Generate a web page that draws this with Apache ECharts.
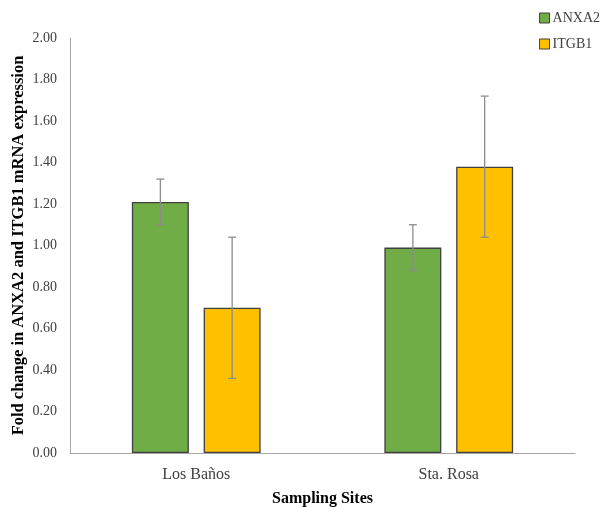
<!DOCTYPE html>
<html>
<head>
<meta charset="utf-8">
<script src="https://cdn.jsdelivr.net/npm/echarts@6/dist/echarts.min.js"></script>
<style>
    html, body { margin: 0; padding: 0; background: #fff; }
    #chart { width: 604px; height: 507px; }
</style>
</head>
<body>
<div id="chart"></div>
<script>
// ================* DATA *
let sites = ['Los Baños', 'Sta. Rosa'];
let anxa2 = [1.21, 0.99];
let anxa2Err = [0.11, 0.11];
let itgb1 = [0.70, 1.38];
let itgb1Err = [0.34, 0.34];

// bar layout (shared with error bars)
let catGap = 0.49;
let barGap = 0.26;

function errorSeries(name, values, errs, side) {
    return {
        name: name + ' err',
        type: 'custom',
        z: 5,
        data: values.map(function (v, i) {
            return [i, v - errs[i], v + errs[i]];
        }),
        renderItem: function (params, api) {
            let band = api.size([1, 0])[0];
            let barW = band * (1 - catGap) / (2 + barGap);
            let off = side * barW * (1 + barGap) / 2;
            let lo = api.coord([api.value(0), api.value(1)]);
            let hi = api.coord([api.value(0), api.value(2)]);
            let x = lo[0] + off;
            let cap = 4;
            let style = { stroke: '#8c8c8c', lineWidth: 1.3 };
            return {
                type: 'group',
                children: [
                    { type: 'line', shape: { x1: x, y1: lo[1], x2: x, y2: hi[1] }, style: style },
                    { type: 'line', shape: { x1: x - cap, y1: lo[1], x2: x + cap, y2: lo[1] }, style: style },
                    { type: 'line', shape: { x1: x - cap, y1: hi[1], x2: x + cap, y2: hi[1] }, style: style }
                ]
            };
        }
    };
}

var chart = echarts.init(document.getElementById('chart'));
option1 = {
    animation: false,
    textStyle: { fontFamily: 'Liberation Serif' },
    legend: {
        data: [
            { name: 'ANXA2', itemStyle: { color: '#70AD47', borderColor: '#404040', borderWidth: 1 } },
            { name: 'ITGB1', itemStyle: { color: '#FFC000', borderColor: '#404040', borderWidth: 1 } }
        ],
        orient: 'vertical',
        right: -1,
        top: 6,
        itemGap: 12,
        itemWidth: 10,
        itemHeight: 10,
        icon: 'rect',
        textStyle: { color: '#404040', fontSize: 14, fontFamily: 'Liberation Serif', padding: [0, 0, 0, -2] }
    },
    grid: {
        left: 70,
        right: 29,
        top: 38,
        bottom: 54,
        outerBoundsMode: 'none'
    },
    xAxis: {
        type: 'category',
        data: sites,
        name: 'Sampling Sites',
        nameLocation: 'middle',
        nameGap: 38,
        nameTextStyle: { color: '#000', fontWeight: 'bold', fontSize: 16, fontFamily: 'Liberation Serif' },
        axisLine: { lineStyle: { color: '#a6a6a6', width: 1 } },
        axisTick: { show: false },
        axisLabel: { color: '#404040', fontSize: 16, margin: 14 }
    },
    yAxis: {
        type: 'value',
        min: 0,
        max: 2,
        interval: 0.2,
        name: 'Fold change in ANXA2 and ITGB1 mRNA expression',
        nameLocation: 'middle',
        nameGap: 43,
        nameMoveOverlap: false,
        nameTextStyle: { color: '#000', fontWeight: 'bold', fontSize: 16.5, fontFamily: 'Liberation Serif' },
        axisLine: { show: true, lineStyle: { color: '#a6a6a6', width: 1 } },
        axisTick: { show: false },
        splitLine: { show: false },
        axisLabel: {
            color: '#404040',
            fontSize: 14,
            margin: 13,
            formatter: function (val) {
                return val.toFixed(2);
            }
        }
    },
    series: [{
            name: 'ANXA2',
            type: 'bar',
            data: anxa2,
            barGap: (barGap * 100) + '%',
            barCategoryGap: (catGap * 100) + '%',
            itemStyle: { color: '#70AD47', borderColor: '#404040', borderWidth: 1.3 }
        },
        {
            name: 'ITGB1',
            type: 'bar',
            data: itgb1,
            itemStyle: { color: '#FFC000', borderColor: '#404040', borderWidth: 1.3 }
        },
        errorSeries('ANXA2', anxa2, anxa2Err, -1),
        errorSeries('ITGB1', itgb1, itgb1Err, 1)
    ]
};
chart.setOption(option1);
</script>
</body>
</html>
